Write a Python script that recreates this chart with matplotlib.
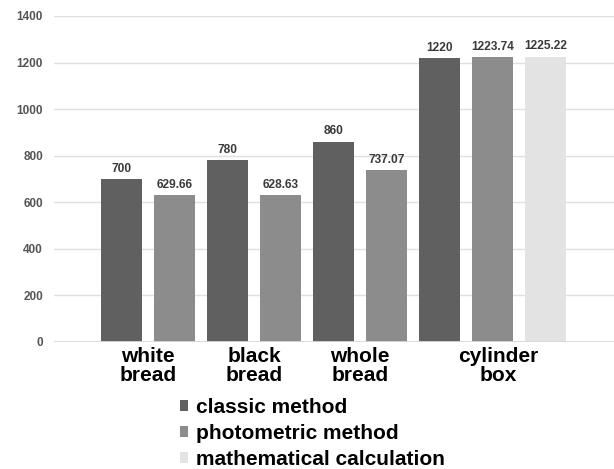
import numpy as np
import matplotlib
matplotlib.use("Agg")
import matplotlib.pyplot as plt
from matplotlib.patches import Patch

plt.rcParams['font.family'] = ['Liberation Sans', 'DejaVu Sans']
plt.rcParams['font.weight'] = 'bold'

# data
groups = ['white\nbread', 'black\nbread', 'whole\nbread', 'cylinder\nbox']
classic = [700, 780, 860, 1220]
photometric = [629.66, 628.63, 737.07, 1223.74]
mathematical = [None, None, None, 1225.22]
series_names = ['classic method', 'photometric method', 'mathematical calculation']
colors = ['#606060', '#8c8c8c', '#e3e3e3']

fig = plt.figure(figsize=(6.14, 4.69), dpi=100)
ax = fig.add_axes([54/614, 1 - 341.7/469, 1 - 54/614, (341.7 - 16)/469])

# bars are placed one after another, group by group
pos = 0
group_centers = []
for i in range(len(groups)):
    start = pos
    for s, series in enumerate([classic, photometric, mathematical]):
        v = series[i]
        if v is None:
            continue
        ax.bar(pos, v, width=0.78, color=colors[s], zorder=3)
        ax.annotate(f"{v:g}", (pos, v), xytext=(0, 3), textcoords='offset points',
                    ha='center', va='bottom', fontsize=8.6, fontweight='bold',
                    color='#3a3a3a')
        pos += 1
    group_centers.append((start + pos - 1) / 2)

group_centers[-1] += 0.1

ax.set_xlim(-1.274, 9.29)
ax.set_ylim(0, 1400)
ax.set_yticks(np.arange(0, 1401, 200))
ax.tick_params(axis='y', length=0, pad=8, labelsize=8.5, labelcolor='#555555')
ax.set_xticks(group_centers)
ax.set_xticklabels(groups, fontsize=15, fontweight='bold', color='black', linespacing=0.95)
ax.tick_params(axis='x', length=0, pad=4)
for lbl in ax.get_yticklabels():
    lbl.set_fontweight('bold')

ax.grid(axis='y', color='#e0e0e0', linewidth=1, zorder=0)
for sp in ax.spines.values():
    sp.set_visible(False)
ax.axhline(0, color='#d8d8d8', linewidth=1.3, zorder=4)

handles = [Patch(facecolor=c, edgecolor='none') for c in colors]
fig.legend(handles, series_names, loc='upper left',
           bbox_to_anchor=(180/614, 1 - 398/469), frameon=False,
           handlelength=0.4, handleheight=0.4,
           handletextpad=0.35, labelspacing=0.33, borderpad=0, borderaxespad=0,
           prop={'weight': 'bold', 'size': 15})

fig.savefig('out.png', dpi=100)
